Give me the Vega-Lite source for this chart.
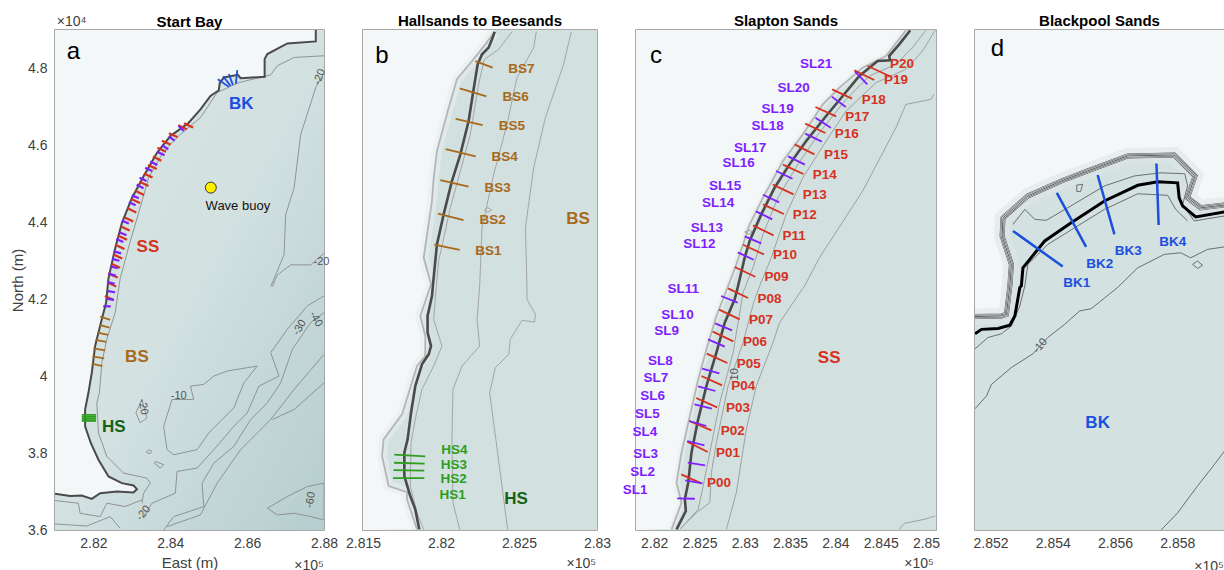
{"$schema":"https://vega.github.io/schema/vega-lite/v6.json","background":"white","padding":{"left":9,"top":13,"right":0,"bottom":0},"config":{"font":"Liberation Sans","view":{"stroke":"#8c8c8c","strokeWidth":1.5},"axis":{"labelFont":"Liberation Sans","labelFontSize":14,"labelColor":"#404040","labelPadding":6,"labelFlush":false,"ticks":false,"domain":false,"grid":false,"titleFont":"Liberation Sans","titleFontSize":15,"titleFontWeight":"normal","titleColor":"#404040","labelOverlap":false},"title":{"font":"Liberation Sans","fontSize":15,"fontWeight":"bold","color":"#000000","offset":1}},
"datasets":{
"transects":[
{"t":"P00","g":"P","e1":282299,"n1":42082,"e2":282522,"n2":41983,"le":282717,"ln":41987},{"t":"P01","g":"P","e1":282365,"n1":42442,"e2":282592,"n2":42328,"le":282816,"ln":42320},{"t":"P02","g":"P","e1":282387,"n1":42669,"e2":282632,"n2":42566,"le":282867,"ln":42563},{"t":"P03","g":"P","e1":282464,"n1":42922,"e2":282695,"n2":42819,"le":282926,"ln":42812},{"t":"P04","g":"P","e1":282522,"n1":43164,"e2":282750,"n2":43061,"le":282984,"ln":43054},{"t":"P05","g":"P","e1":282581,"n1":43410,"e2":282808,"n2":43307,"le":283043,"ln":43300},{"t":"P06","g":"P","e1":282647,"n1":43652,"e2":282874,"n2":43545,"le":283113,"ln":43538},{"t":"P07","g":"P","e1":282717,"n1":43894,"e2":282944,"n2":43787,"le":283179,"ln":43780},{"t":"P08","g":"P","e1":282816,"n1":44128,"e2":283036,"n2":44022,"le":283274,"ln":44015},{"t":"P09","g":"P","e1":282889,"n1":44363,"e2":283116,"n2":44256,"le":283351,"ln":44253},{"t":"P10","g":"P","e1":282981,"n1":44608,"e2":283212,"n2":44502,"le":283443,"ln":44495},{"t":"P11","g":"P","e1":283091,"n1":44821,"e2":283318,"n2":44711,"le":283546,"ln":44707},{"t":"P12","g":"P","e1":283201,"n1":45052,"e2":283432,"n2":44946,"le":283663,"ln":44938},{"t":"P13","g":"P","e1":283311,"n1":45269,"e2":283538,"n2":45162,"le":283773,"ln":45158},{"t":"P14","g":"P","e1":283421,"n1":45489,"e2":283648,"n2":45386,"le":283883,"ln":45379},{"t":"P15","g":"P","e1":283549,"n1":45712,"e2":283769,"n2":45602,"le":284008,"ln":45599},{"t":"P16","g":"P","e1":283667,"n1":45940,"e2":283890,"n2":45837,"le":284125,"ln":45826},{"t":"P17","g":"P","e1":283780,"n1":46123,"e2":284008,"n2":46020,"le":284242,"ln":46013},{"t":"P18","g":"P","e1":283964,"n1":46317,"e2":284184,"n2":46215,"le":284422,"ln":46204},{"t":"P19","g":"P","e1":284209,"n1":46526,"e2":284429,"n2":46420,"le":284668,"ln":46416},{"t":"P20","g":"P","e1":284356,"n1":46574,"e2":284594,"n2":46464,"le":284734,"ln":46592},
{"t":"SL1","g":"SL","e1":282255,"n1":41818,"e2":282449,"n2":41814,"le":281789,"ln":41913},{"t":"SL2","g":"SL","e1":282343,"n1":42016,"e2":282533,"n2":41983,"le":281873,"ln":42108},{"t":"SL3","g":"SL","e1":282372,"n1":42211,"e2":282563,"n2":42181,"le":281906,"ln":42302},{"t":"SL4","g":"SL","e1":282365,"n1":42449,"e2":282555,"n2":42401,"le":281899,"ln":42548},{"t":"SL5","g":"SL","e1":282387,"n1":42669,"e2":282577,"n2":42614,"le":281925,"ln":42746},{"t":"SL6","g":"SL","e1":282445,"n1":42852,"e2":282636,"n2":42805,"le":281983,"ln":42940},{"t":"SL7","g":"SL","e1":282486,"n1":43050,"e2":282676,"n2":42999,"le":282020,"ln":43138},{"t":"SL8","g":"SL","e1":282530,"n1":43245,"e2":282720,"n2":43193,"le":282068,"ln":43333},{"t":"SL9","g":"SL","e1":282596,"n1":43567,"e2":282779,"n2":43487,"le":282137,"ln":43659},{"t":"SL10","g":"SL","e1":282673,"n1":43743,"e2":282860,"n2":43666,"le":282258,"ln":43835},{"t":"SL11","g":"SL","e1":282739,"n1":44044,"e2":282922,"n2":43971,"le":282321,"ln":44125},{"t":"SL12","g":"SL","e1":282922,"n1":44524,"e2":283098,"n2":44443,"le":282500,"ln":44616},{"t":"SL13","g":"SL","e1":282999,"n1":44700,"e2":283182,"n2":44623,"le":282581,"ln":44795},{"t":"SL14","g":"SL","e1":283124,"n1":44975,"e2":283303,"n2":44887,"le":282706,"ln":45067},{"t":"SL15","g":"SL","e1":283201,"n1":45158,"e2":283380,"n2":45074,"le":282783,"ln":45250},{"t":"SL16","g":"SL","e1":283347,"n1":45419,"e2":283527,"n2":45334,"le":282933,"ln":45511},{"t":"SL17","g":"SL","e1":283479,"n1":45580,"e2":283663,"n2":45489,"le":283058,"ln":45672},{"t":"SL18","g":"SL","e1":283667,"n1":45830,"e2":283850,"n2":45742,"le":283252,"ln":45918},{"t":"SL19","g":"SL","e1":283780,"n1":46006,"e2":283949,"n2":45896,"le":283362,"ln":46097},{"t":"SL20","g":"SL","e1":283960,"n1":46237,"e2":284114,"n2":46123,"le":283538,"ln":46328},{"t":"SL21","g":"SL","e1":284217,"n1":46512,"e2":284352,"n2":46372,"le":283788,"ln":46596},
{"t":"BS1","g":"BS","e1":281957,"n1":40299,"e2":282120,"n2":40265,"le":282303,"ln":40258},{"t":"BS2","g":"BS","e1":281981,"n1":40498,"e2":282145,"n2":40457,"le":282331,"ln":40455},{"t":"BS3","g":"BS","e1":281996,"n1":40713,"e2":282177,"n2":40671,"le":282363,"ln":40664},{"t":"BS4","g":"BS","e1":282030,"n1":40912,"e2":282222,"n2":40865,"le":282408,"ln":40861},{"t":"BS5","g":"BS","e1":282094,"n1":41105,"e2":282267,"n2":41066,"le":282455,"ln":41060},{"t":"BS6","g":"BS","e1":282120,"n1":41301,"e2":282291,"n2":41250,"le":282479,"ln":41246},{"t":"BS7","g":"BS","e1":282220,"n1":41476,"e2":282331,"n2":41434,"le":282515,"ln":41427},
{"t":"HS1","g":"HS","e1":281692,"n1":38803,"e2":281893,"n2":38803,"le":282075,"ln":38696},{"t":"HS2","g":"HS","e1":281696,"n1":38854,"e2":281893,"n2":38850,"le":282081,"ln":38795},{"t":"HS3","g":"HS","e1":281699,"n1":38901,"e2":281895,"n2":38895,"le":282083,"ln":38889},{"t":"HS4","g":"HS","e1":281701,"n1":38953,"e2":281899,"n2":38942,"le":282085,"ln":38985},
{"t":"BK1","g":"BK","e1":285272,"n1":47723,"e2":285432,"n2":47609,"le":285477,"ln":47557},{"t":"BK2","g":"BK","e1":285413,"n1":47845,"e2":285507,"n2":47672,"le":285551,"ln":47616},{"t":"BK3","g":"BK","e1":285544,"n1":47902,"e2":285598,"n2":47712,"le":285642,"ln":47659},{"t":"BK4","g":"BK","e1":285733,"n1":47939,"e2":285740,"n2":47742,"le":285785,"ln":47689}],
"transA":[
{"g":"BS","e1":282175,"n1":41551,"e2":282436,"n2":41464},{"g":"BS","e1":282148,"n1":41333,"e2":282418,"n2":41264},{"g":"BS","e1":282105,"n1":41133,"e2":282383,"n2":41072},{"g":"BS","e1":282053,"n1":40942,"e2":282331,"n2":40889},{"g":"BS","e1":282000,"n1":40724,"e2":282305,"n2":40672},{"g":"BS","e1":281974,"n1":40515,"e2":282279,"n2":40463},{"g":"BS","e1":281957,"n1":40324,"e2":282235,"n2":40263},
{"g":"HS","e1":281696,"n1":38993,"e2":282070,"n2":38993},{"g":"HS","e1":281696,"n1":38941,"e2":282070,"n2":38941},{"g":"HS","e1":281696,"n1":38888,"e2":282070,"n2":38888},{"g":"HS","e1":281696,"n1":38836,"e2":282070,"n2":38836},
{"g":"BK","e1":285237,"n1":47721,"e2":285524,"n2":47521},{"g":"BK","e1":285376,"n1":47799,"e2":285568,"n2":47547},{"g":"BK","e1":285524,"n1":47852,"e2":285628,"n2":47573},{"g":"BK","e1":285742,"n1":47956,"e2":285707,"n2":47608}],
"notes":[
{"p":"a","k":"letter","t":"a","e":281479,"n":48417},{"p":"b","k":"letter","t":"b","e":281622,"n":41508},{"p":"c","k":"letter","t":"c","e":282020,"n":46684},{"p":"d","k":"letter","t":"d","e":285222,"n":48306},
{"p":"a","k":"mult","t":"×10⁴","e":281435,"n":49200},{"p":"a","k":"mult","t":"×10⁵","e":287612,"n":35070},{"p":"b","k":"mult","t":"×10⁵","e":282900,"n":38250},{"p":"c","k":"mult","t":"×10⁵","e":284924,"n":41092},{"p":"d","k":"mult","t":"×10⁵","e":285902,"n":46648},
{"p":"a","k":"region","g":"BK","t":"BK","e":285846,"n":47069},{"p":"a","k":"region","g":"SS","t":"SS","e":283419,"n":43354},{"p":"a","k":"region","g":"BS","t":"BS","e":283132,"n":40489},{"p":"a","k":"region","g":"HSr","t":"HS","e":282531,"n":38688},
{"p":"b","k":"region","g":"BS","t":"BS","e":282878,"n":40461},{"p":"b","k":"region","g":"HSr","t":"HS","e":282481,"n":38666},{"p":"c","k":"region","g":"SS","t":"SS","e":283931,"n":43362},{"p":"d","k":"region","g":"BK","t":"BK","e":285544,"n":47110},
{"p":"a","k":"depth","t":"-20","e":287890,"n":47782,"ang":290},{"p":"a","k":"depth","t":"-20","e":287934,"n":42962,"ang":0},{"p":"a","k":"depth","t":"-10","e":284219,"n":39497,"ang":0},{"p":"a","k":"depth","t":"-20","e":283288,"n":39202,"ang":80},{"p":"a","k":"depth","t":"-20","e":283306,"n":36435,"ang":310},{"p":"a","k":"depth","t":"-30","e":287368,"n":41264,"ang":300},{"p":"a","k":"depth","t":"-40","e":287786,"n":41481,"ang":60},{"p":"a","k":"depth","t":"-60","e":287656,"n":36783,"ang":280},
{"p":"c","k":"depth","t":"10","e":282889,"n":43182,"ang":270},{"p":"d","k":"depth","t":"-10","e":285360,"n":47355,"ang":310}],
"seaA":[{"e":281000,"e2":288000,"n":36000,"n2":49000}],"seaB":[{"e":281500,"e2":283000,"n":38470,"n2":41675}],"seaC":[{"e":281800,"e2":285110,"n":41470,"n2":46970}],"seaD":[{"e":285150,"e2":285950,"n":46766,"n2":48366}],
"buoy":[{"e":285054,"n":44902,"e3":285759,"n3":44432,"t":"Wave buoy"}],
"coastA":[{"e":287786,"n":49000},{"e":287786,"n":48704},{"e":287047,"n":48652},{"e":286525,"n":48374},{"e":286455,"n":48243},{"e":286455,"n":47782},{"e":285829,"n":47747},{"e":285759,"n":47834},{"e":285394,"n":47765},{"e":285289,"n":47634},{"e":285263,"n":47434},{"e":285046,"n":47286},{"e":284785,"n":46938},{"e":284480,"n":46590},{"e":284002,"n":46242},{"e":283654,"n":45807},{"e":283306,"n":45198},{"e":283001,"n":44633},{"e":282740,"n":43980},{"e":282566,"n":43328},{"e":282392,"n":42545},{"e":282331,"n":41916},{"e":282218,"n":41481},{"e":282044,"n":40785},{"e":281957,"n":40089},{"e":281870,"n":39567},{"e":281783,"n":39132},{"e":281783,"n":38697},{"e":281931,"n":38262},{"e":282131,"n":37827},{"e":282392,"n":37392},{"e":282740,"n":37218},{"e":283045,"n":37157},{"e":283132,"n":37061},{"e":283045,"n":36974},{"e":282610,"n":37000},{"e":282175,"n":36957},{"e":281957,"n":36809},{"e":281696,"n":36896},{"e":281392,"n":36887},{"e":281000,"n":36940},{"e":281000,"n":49000,"corner":1}],
"contA":[
{"id":"1","e":288003,"n":48330},{"id":"1","e":287221,"n":48287},{"id":"1","e":286786,"n":48069},{"id":"1","e":286612,"n":47834},{"id":"1","e":285785,"n":47634},{"id":"1","e":285220,"n":47373},{"id":"1","e":284785,"n":46721},{"id":"1","e":284263,"n":46286},{"id":"1","e":283828,"n":45851},{"id":"1","e":283436,"n":45155},{"id":"1","e":283175,"n":44241},{"id":"1","e":282958,"n":43502},{"id":"1","e":282697,"n":42545},{"id":"1","e":282566,"n":41655},{"id":"1","e":282349,"n":40959},{"id":"1","e":282218,"n":40350},{"id":"1","e":282157,"n":39567},{"id":"1","e":282088,"n":39306},{"id":"1","e":282131,"n":38523},{"id":"1","e":282349,"n":37914},{"id":"1","e":282784,"n":37479},{"id":"1","e":283393,"n":37349},{"id":"1","e":283480,"n":37218},{"id":"1","e":283306,"n":36957},{"id":"1","e":283262,"n":36696},
{"id":"2","e":288003,"n":47895},{"id":"2","e":287786,"n":47504},{"id":"2","e":287395,"n":46286},{"id":"2","e":287221,"n":44894},{"id":"2","e":287003,"n":44198},{"id":"2","e":286960,"n":43154},{"id":"2","e":286612,"n":42327},
{"id":"3","e":284045,"n":39393},{"id":"3","e":283828,"n":38697},{"id":"3","e":283915,"n":38088},{"id":"3","e":284089,"n":37958},{"id":"3","e":284698,"n":38088},{"id":"3","e":285002,"n":38523},{"id":"3","e":285655,"n":39176},{"id":"3","e":285916,"n":39828},{"id":"3","e":286264,"n":40263},{"id":"3","e":285481,"n":40133},{"id":"3","e":285133,"n":40002},{"id":"3","e":284872,"n":39785},{"id":"3","e":284524,"n":39741},{"id":"3","e":284611,"n":39393},{"id":"3","e":284045,"n":39393},
{"id":"4","e":283306,"n":36348},{"id":"4","e":283523,"n":36696},{"id":"4","e":284132,"n":36957},{"id":"4","e":284176,"n":37523},{"id":"4","e":284698,"n":37610},{"id":"4","e":285133,"n":38088},{"id":"4","e":285655,"n":38697},{"id":"4","e":286003,"n":39045},{"id":"4","e":286307,"n":39741},{"id":"4","e":286829,"n":40002},{"id":"4","e":286612,"n":40611},{"id":"4","e":287047,"n":41220},{"id":"4","e":287569,"n":41829},{"id":"4","e":288003,"n":42090},
{"id":"5","e":283828,"n":36000},{"id":"5","e":284089,"n":36348},{"id":"5","e":284872,"n":36609},{"id":"5","e":284828,"n":37218},{"id":"5","e":285133,"n":37740},{"id":"5","e":285655,"n":38175},{"id":"5","e":286090,"n":38871},{"id":"5","e":286525,"n":39306},{"id":"5","e":286873,"n":39828},{"id":"5","e":287177,"n":40698},{"id":"5","e":287656,"n":41394},{"id":"5","e":288003,"n":41655},
{"id":"6","e":283915,"n":36087},{"id":"6","e":284785,"n":36392},{"id":"6","e":285220,"n":37218},{"id":"6","e":285829,"n":38088},{"id":"6","e":286612,"n":38871},{"id":"6","e":287221,"n":39654},{"id":"6","e":288003,"n":40568},
{"id":"7","e":288003,"n":39828},{"id":"7","e":287221,"n":39132},{"id":"7","e":286655,"n":38871},
{"id":"8","e":286525,"n":36566},{"id":"8","e":287047,"n":36870},{"id":"8","e":287569,"n":37131},{"id":"8","e":288003,"n":37218},{"id":"8","e":288003,"n":36261},{"id":"8","e":287656,"n":36348},{"id":"8","e":287221,"n":36435},{"id":"8","e":286786,"n":36392},{"id":"8","e":286525,"n":36566},
{"id":"9","e":281000,"n":36766},{"id":"9","e":281609,"n":36696},{"id":"9","e":281653,"n":36435},{"id":"9","e":282175,"n":36348},{"id":"9","e":282349,"n":36696},{"id":"9","e":282827,"n":36609},{"id":"9","e":283262,"n":36783},
{"id":"10","e":281000,"n":36157},{"id":"10","e":281827,"n":36104},{"id":"10","e":282436,"n":36348},{"id":"10","e":282697,"n":36044},
{"id":"11","e":283262,"n":39393},{"id":"11","e":283393,"n":38915},{"id":"11","e":283219,"n":38784},{"id":"11","e":283105,"n":39045},{"id":"11","e":283262,"n":39393},
{"id":"12","e":288003,"n":43197},{"id":"12","e":287656,"n":42893},{"id":"12","e":287134,"n":42893},{"id":"12","e":286786,"n":42632},{"id":"12","e":286655,"n":42327},
{"id":"13","e":283436,"n":38088},{"id":"13","e":283523,"n":38045},{"id":"13","e":283480,"n":37983},{"id":"13","e":283375,"n":38018},{"id":"13","e":283436,"n":38088},
{"id":"14","e":283610,"n":37783},{"id":"14","e":283828,"n":37697},{"id":"14","e":283741,"n":37610},{"id":"14","e":283584,"n":37740},{"id":"14","e":283610,"n":37783}],
"coastB":[{"e":282344,"n":41664},{"e":282327,"n":41615},{"e":282305,"n":41562},{"e":282263,"n":41519},{"e":282235,"n":41455},{"e":282209,"n":41295},{"e":282177,"n":41092},{"e":282124,"n":40878},{"e":282070,"n":40707},{"e":282017,"n":40493},{"e":281974,"n":40301},{"e":281953,"n":40087},{"e":281942,"n":39970},{"e":281914,"n":39842},{"e":281914,"n":39735},{"e":281936,"n":39649},{"e":281921,"n":39596},{"e":281878,"n":39532},{"e":281835,"n":39393},{"e":281808,"n":39222},{"e":281786,"n":39051},{"e":281765,"n":38965},{"e":281765,"n":38816},{"e":281803,"n":38688},{"e":281835,"n":38602},{"e":281861,"n":38474}],
"landB":[{"e":282344,"n":41664},{"e":282284,"n":41583},{"e":282199,"n":41476},{"e":282102,"n":41359},{"e":282049,"n":41177},{"e":281974,"n":40899},{"e":281953,"n":40728},{"e":281942,"n":40579},{"e":281889,"n":40216},{"e":281936,"n":40045},{"e":281867,"n":39842},{"e":281899,"n":39713},{"e":281899,"n":39585},{"e":281846,"n":39521},{"e":281793,"n":39350},{"e":281750,"n":39211},{"e":281632,"n":39051},{"e":281622,"n":38944},{"e":281664,"n":38752},{"e":281782,"n":38713},{"e":281782,"n":38666},{"e":281846,"n":38474},{"e":281500,"n":38470,"corner":1},{"e":281500,"n":41675,"corner":1},{"e":282344,"n":41675,"corner":1}],
"contB":[
{"id":"1","e":282455,"n":41664},{"id":"1","e":282370,"n":41551},{"id":"1","e":282278,"n":41487},{"id":"1","e":282241,"n":41327},{"id":"1","e":282188,"n":41006},{"id":"1","e":282060,"n":40536},{"id":"1","e":281985,"n":40194},{"id":"1","e":281970,"n":40034},{"id":"1","e":281953,"n":39820},{"id":"1","e":282006,"n":39649},{"id":"1","e":281953,"n":39521},{"id":"1","e":281878,"n":39372},{"id":"1","e":281835,"n":39179},{"id":"1","e":281808,"n":39030},{"id":"1","e":281803,"n":38752},{"id":"1","e":281846,"n":38581},{"id":"1","e":281889,"n":38474},
{"id":"2","e":282611,"n":41664},{"id":"2","e":282594,"n":41562},{"id":"2","e":282487,"n":41369},{"id":"2","e":282423,"n":41070},{"id":"2","e":282338,"n":40750},{"id":"2","e":282263,"n":40408},{"id":"2","e":282248,"n":40034},{"id":"2","e":282231,"n":39820},{"id":"2","e":282248,"n":39649},{"id":"2","e":282135,"n":39521},{"id":"2","e":282077,"n":39372},{"id":"2","e":282070,"n":39030},{"id":"2","e":282077,"n":38645},{"id":"2","e":282120,"n":38474},
{"id":"3","e":282835,"n":41664},{"id":"3","e":282786,"n":41455},{"id":"3","e":282669,"n":41113},{"id":"3","e":282594,"n":40792},{"id":"3","e":282541,"n":40408},{"id":"3","e":282551,"n":40034},{"id":"3","e":282551,"n":39949},{"id":"3","e":282605,"n":39852},{"id":"3","e":282600,"n":39803},{"id":"3","e":282519,"n":39814},{"id":"3","e":282444,"n":39692},{"id":"3","e":282434,"n":39596},{"id":"3","e":282348,"n":39510},{"id":"3","e":282312,"n":39350},{"id":"3","e":282380,"n":38837},{"id":"3","e":282427,"n":38474},
{"id":"4","e":282278,"n":40521},{"id":"4","e":282301,"n":40536},{"id":"4","e":282325,"n":40521},{"id":"4","e":282301,"n":40506},{"id":"4","e":282278,"n":40521}],
"coastC":[{"e":284825,"n":46966},{"e":284704,"n":46812},{"e":284594,"n":46684},{"e":284602,"n":46636},{"e":284466,"n":46629},{"e":284264,"n":46464},{"e":284081,"n":46244},{"e":283898,"n":46024},{"e":283678,"n":45749},{"e":283494,"n":45492},{"e":283329,"n":45235},{"e":283182,"n":44942},{"e":283054,"n":44649},{"e":282999,"n":44465},{"e":282926,"n":44154},{"e":282889,"n":44007},{"e":282779,"n":43751},{"e":282687,"n":43421},{"e":282577,"n":43054},{"e":282486,"n":42687},{"e":282412,"n":42320},{"e":282376,"n":41990},{"e":282339,"n":41807},{"e":282350,"n":41679},{"e":282247,"n":41477}],
"landC":[{"e":284778,"n":46966},{"e":284558,"n":46684},{"e":284301,"n":46556},{"e":284044,"n":46336},{"e":283861,"n":46152},{"e":283641,"n":45822},{"e":283421,"n":45529},{"e":283201,"n":45126},{"e":283054,"n":44832},{"e":282907,"n":44392},{"e":282816,"n":44154},{"e":282687,"n":43824},{"e":282577,"n":43457},{"e":282486,"n":43127},{"e":282394,"n":42724},{"e":282302,"n":42320},{"e":282247,"n":41990},{"e":282302,"n":41770},{"e":282192,"n":41477},{"e":281800,"n":41470,"corner":1},{"e":281800,"n":46970,"corner":1},{"e":284778,"n":46970,"corner":1}],
"contC":[
{"id":"1","e":284998,"n":46966},{"id":"1","e":284851,"n":46776},{"id":"1","e":284668,"n":46592},{"id":"1","e":284374,"n":46464},{"id":"1","e":284118,"n":46207},{"id":"1","e":283824,"n":45841},{"id":"1","e":283586,"n":45492},{"id":"1","e":283366,"n":45126},{"id":"1","e":283201,"n":44722},{"id":"1","e":283091,"n":44355},{"id":"1","e":282981,"n":44081},{"id":"1","e":282871,"n":43421},{"id":"1","e":282724,"n":42871},{"id":"1","e":282541,"n":41954},{"id":"1","e":282486,"n":41697},{"id":"1","e":282291,"n":41484},
{"id":"2","e":285100,"n":46966},{"id":"2","e":284961,"n":46739},{"id":"2","e":284778,"n":46537},{"id":"2","e":284448,"n":46391},{"id":"2","e":284118,"n":46079},{"id":"2","e":283898,"n":45749},{"id":"2","e":283641,"n":45345},{"id":"2","e":283457,"n":44942},{"id":"2","e":283292,"n":44465},{"id":"2","e":283164,"n":44154},{"id":"2","e":283098,"n":43971},{"id":"2","e":282981,"n":43531},{"id":"2","e":282816,"n":43054},{"id":"2","e":282687,"n":42431},{"id":"2","e":282632,"n":42100},{"id":"2","e":282614,"n":41770},{"id":"2","e":282467,"n":41660},{"id":"2","e":282291,"n":41484},
{"id":"3","e":285089,"n":46262},{"id":"3","e":285053,"n":46207},{"id":"3","e":284778,"n":46152},{"id":"3","e":284668,"n":45896},{"id":"3","e":284301,"n":45199},{"id":"3","e":283824,"n":44465},{"id":"3","e":283659,"n":44154},{"id":"3","e":283384,"n":43751},{"id":"3","e":283311,"n":43531},{"id":"3","e":283127,"n":43054},{"id":"3","e":283017,"n":42577},{"id":"3","e":282907,"n":41880},{"id":"3","e":282797,"n":41477},
{"id":"4","e":284704,"n":41477},{"id":"4","e":284759,"n":41543},{"id":"4","e":284979,"n":41587},{"id":"4","e":285100,"n":41624},
{"id":"5","e":282999,"n":44748},{"id":"5","e":283043,"n":44770},{"id":"5","e":283083,"n":44748},{"id":"5","e":283043,"n":44722},{"id":"5","e":282999,"n":44748}],
"coastD":[{"e":285952,"n":47784},{"e":285859,"n":47768},{"e":285817,"n":47803},{"e":285806,"n":47829},{"e":285801,"n":47877},{"e":285737,"n":47880},{"e":285673,"n":47869},{"e":285566,"n":47819},{"e":285459,"n":47749},{"e":285374,"n":47691},{"e":285304,"n":47605},{"e":285299,"n":47547},{"e":285294,"n":47542},{"e":285278,"n":47451},{"e":285262,"n":47421},{"e":285224,"n":47411},{"e":285171,"n":47408},{"e":285150,"n":47394}],
"landD":[{"e":285952,"n":47806},{"e":285875,"n":47797},{"e":285833,"n":47829},{"e":285857,"n":47899},{"e":285790,"n":47966},{"e":285641,"n":47963},{"e":285512,"n":47915},{"e":285427,"n":47883},{"e":285320,"n":47835},{"e":285240,"n":47765},{"e":285237,"n":47707},{"e":285267,"n":47616},{"e":285262,"n":47547},{"e":285251,"n":47456},{"e":285235,"n":47451},{"e":285150,"n":47449},{"e":285150,"n":48366,"corner":1},{"e":285952,"n":48366,"corner":1}],
"contD":[
{"id":"1","e":285272,"n":47744},{"id":"1","e":285310,"n":47792},{"id":"1","e":285342,"n":47760},{"id":"1","e":285379,"n":47757},{"id":"1","e":285475,"n":47813},{"id":"1","e":285566,"n":47867},{"id":"1","e":285662,"n":47899},{"id":"1","e":285747,"n":47909},{"id":"1","e":285824,"n":47906},{"id":"1","e":285833,"n":47867},{"id":"1","e":285817,"n":47808},{"id":"1","e":285854,"n":47755},{"id":"1","e":285952,"n":47771},
{"id":"2","e":285150,"n":47346},{"id":"2","e":285192,"n":47382},{"id":"2","e":285235,"n":47394},{"id":"2","e":285267,"n":47419},{"id":"2","e":285294,"n":47483},{"id":"2","e":285310,"n":47547},{"id":"2","e":285320,"n":47616},{"id":"2","e":285384,"n":47680},{"id":"2","e":285470,"n":47733},{"id":"2","e":285566,"n":47792},{"id":"2","e":285673,"n":47842},{"id":"2","e":285769,"n":47837},{"id":"2","e":285795,"n":47792},{"id":"2","e":285833,"n":47755},
{"id":"3","e":285150,"n":47154},{"id":"3","e":285187,"n":47195},{"id":"3","e":285203,"n":47232},{"id":"3","e":285267,"n":47286},{"id":"3","e":285336,"n":47330},{"id":"3","e":285384,"n":47382},{"id":"3","e":285438,"n":47424},{"id":"3","e":285486,"n":47467},{"id":"3","e":285523,"n":47474},{"id":"3","e":285608,"n":47542},{"id":"3","e":285673,"n":47605},{"id":"3","e":285758,"n":47648},{"id":"3","e":285811,"n":47653},{"id":"3","e":285843,"n":47637},{"id":"3","e":285897,"n":47664},{"id":"3","e":285952,"n":47672},
{"id":"4","e":285745,"n":46763},{"id":"4","e":285801,"n":46821},{"id":"4","e":285865,"n":46907},{"id":"4","e":285907,"n":46960},{"id":"4","e":285952,"n":47019},
{"id":"5","e":285477,"n":47870},{"id":"5","e":285496,"n":47872},{"id":"5","e":285489,"n":47849},{"id":"5","e":285477,"n":47849},{"id":"5","e":285477,"n":47870},
{"id":"6","e":285849,"n":47616},{"id":"6","e":285865,"n":47627},{"id":"6","e":285881,"n":47613},{"id":"6","e":285865,"n":47603},{"id":"6","e":285849,"n":47616}]
},
"hconcat":[
{"width":269,"height":500,"title":{"text":"Start Bay","offset":-15},
"encoding":{"x":{"field":"e","type":"quantitative","scale":{"domain":[281000,288000],"nice":false,"zero":false},"axis":{"values":[282000,284000,286000,288000],"labelExpr":"format(datum.value/100000,'.3~f')","title":"East (m)","titlePadding":5}},"y":{"field":"n","type":"quantitative","scale":{"domain":[36000,49000],"nice":false,"zero":false},"axis":{"values":[36000,38000,40000,42000,44000,46000,48000],"labelExpr":"format(datum.value/10000,'.1~f')","title":"North (m)","titlePadding":2,"labelPadding":8}}},
"layer":[
{"data":{"name":"seaA"},"mark":{"type":"rect","fill":{"gradient":"linear","x1":0,"y1":0,"x2":1,"y2":1,"stops":[{"offset":0,"color":"#d6e3e3"},{"offset":0.5,"color":"#d3e1e1"},{"offset":0.8,"color":"#c1d5d6"},{"offset":1,"color":"#b5cdce"}]}},"encoding":{"x2":{"field":"e2"},"y2":{"field":"n2"}}},
{"data":{"name":"coastA"},"mark":{"type":"line","order":null,"fill":"#f3f7f8","stroke":"#f3f7f8","strokeWidth":1,"clip":true}},
{"data":{"name":"contA"},"mark":{"type":"line","order":null,"stroke":"#8a8a8a","strokeWidth":0.9,"clip":true},"encoding":{"detail":{"field":"id"}}},
{"data":{"name":"coastA"},"transform":[{"filter":"!datum.corner"}],"mark":{"type":"line","order":null,"stroke":"#4a4a4a","strokeWidth":2,"clip":true}},
{"data":{"name":"transects"},"transform":[{"filter":"datum.g=='P'||datum.g=='SL'"}],"mark":{"type":"rule","strokeWidth":2.2,"clip":true},"encoding":{"x":{"field":"e1","type":"quantitative"},"x2":{"field":"e2"},"y":{"field":"n1","type":"quantitative"},"y2":{"field":"n2"},"color":{"field":"g","type":"nominal","legend":null,"scale":{"domain":["P","SL","BS","HS","BK","HSr","SS"],"range":["#d6321e","#7f1fff","#a8691a","#2e9e1e","#1c4fe0","#156315","#d6321e"]}}}},
{"data":{"name":"transA"},"mark":{"type":"rule","strokeWidth":1.8,"clip":true},"encoding":{"x":{"field":"e1","type":"quantitative"},"x2":{"field":"e2"},"y":{"field":"n1","type":"quantitative"},"y2":{"field":"n2"},"color":{"field":"g","type":"nominal","legend":null}}},
{"data":{"name":"notes"},"transform":[{"filter":"datum.p=='a'&&datum.k=='region'"}],"mark":{"type":"text","fontWeight":"bold","fontSize":17},"encoding":{"text":{"field":"t"},"color":{"field":"g","type":"nominal","legend":null,"scale":{"domain":["P","SL","BS","HS","BK","HSr","SS"],"range":["#d6321e","#7f1fff","#a8691a","#2e9e1e","#1c4fe0","#156315","#d6321e"]}}}},
{"data":{"name":"notes"},"transform":[{"filter":"datum.p=='a'&&datum.k=='depth'"}],"mark":{"type":"text","fontSize":11,"color":"#555555"},"encoding":{"text":{"field":"t"},"angle":{"field":"ang","type":"quantitative","scale":null}}},
{"data":{"name":"notes"},"transform":[{"filter":"datum.p=='a'&&datum.k=='letter'"}],"mark":{"type":"text","fontSize":24,"color":"#000000"},"encoding":{"text":{"field":"t"}}},
{"data":{"name":"notes"},"transform":[{"filter":"datum.p=='a'&&datum.k=='mult'"}],"mark":{"type":"text","fontSize":14,"color":"#404040"},"encoding":{"text":{"field":"t"}}},
{"data":{"name":"buoy"},"mark":{"type":"point","filled":true,"fill":"#ffee00","stroke":"#333333","strokeWidth":1,"size":120,"opacity":1}},
{"data":{"name":"buoy"},"mark":{"type":"text","fontSize":13,"color":"#111111"},"encoding":{"x":{"field":"e3","type":"quantitative"},"y":{"field":"n3","type":"quantitative"},"text":{"field":"t"}}}
]},
{"width":234,"height":500,"title":"Hallsands to Beesands",
"encoding":{"x":{"field":"e","type":"quantitative","scale":{"domain":[281500,283000],"nice":false,"zero":false},"axis":{"values":[281500,282000,282500,283000],"labelExpr":"format(datum.value/100000,'.3~f')","title":null}},"y":{"field":"n","type":"quantitative","scale":{"domain":[38470,41675],"nice":false,"zero":false},"axis":null}},
"layer":[
{"data":{"name":"seaB"},"mark":{"type":"rect","fill":"#d2e0e0"},"encoding":{"x2":{"field":"e2"},"y2":{"field":"n2"}}},
{"data":{"name":"landB"},"mark":{"type":"line","order":null,"fill":"#f3f7f8","strokeWidth":0,"clip":true}},
{"data":{"name":"landB"},"transform":[{"filter":"!datum.corner"}],"mark":{"type":"line","order":null,"stroke":"#e8eeee","strokeWidth":10,"strokeOpacity":0.6,"clip":true}},
{"data":{"name":"landB"},"transform":[{"filter":"!datum.corner"}],"mark":{"type":"line","order":null,"stroke":"#b5b5b5","strokeWidth":1.8,"clip":true}},
{"data":{"name":"contB"},"mark":{"type":"line","order":null,"stroke":"#a5a5a5","strokeWidth":1,"clip":true},"encoding":{"detail":{"field":"id"}}},
{"data":{"name":"coastB"},"mark":{"type":"line","order":null,"stroke":"#4a4a4a","strokeWidth":2.6,"clip":true}},
{"data":{"name":"transects"},"transform":[{"filter":"datum.g=='BS'||datum.g=='HS'"}],"mark":{"type":"rule","strokeWidth":1.8},"encoding":{"x":{"field":"e1","type":"quantitative"},"x2":{"field":"e2"},"y":{"field":"n1","type":"quantitative","axis":null},"y2":{"field":"n2"},"color":{"field":"g","type":"nominal","legend":null,"scale":{"domain":["P","SL","BS","HS","BK","HSr","SS"],"range":["#d6321e","#7f1fff","#a8691a","#2e9e1e","#1c4fe0","#156315","#d6321e"]}}}},
{"data":{"name":"transects"},"transform":[{"filter":"datum.g=='BS'||datum.g=='HS'"}],"mark":{"type":"text","fontWeight":"bold","fontSize":13.5},"encoding":{"x":{"field":"le","type":"quantitative"},"y":{"field":"ln","type":"quantitative","axis":null},"text":{"field":"t"},"color":{"field":"g","type":"nominal","legend":null}}},
{"data":{"name":"notes"},"transform":[{"filter":"datum.p=='b'&&datum.k=='region'"}],"mark":{"type":"text","fontWeight":"bold","fontSize":17},"encoding":{"text":{"field":"t"},"color":{"field":"g","type":"nominal","legend":null}}},
{"data":{"name":"notes"},"transform":[{"filter":"datum.p=='b'&&datum.k=='letter'"}],"mark":{"type":"text","fontSize":24,"color":"#000000"},"encoding":{"text":{"field":"t"}}},
{"data":{"name":"notes"},"transform":[{"filter":"datum.p=='b'&&datum.k=='mult'"}],"mark":{"type":"text","fontSize":14,"color":"#404040"},"encoding":{"text":{"field":"t"}}}
]},
{"width":300,"height":500,"title":"Slapton Sands",
"encoding":{"x":{"field":"e","type":"quantitative","scale":{"domain":[281800,285110],"nice":false,"zero":false},"axis":{"values":[282000,282500,283000,283500,284000,284500,285000],"labelExpr":"format(datum.value/100000,'.3~f')","title":null}},"y":{"field":"n","type":"quantitative","scale":{"domain":[41470,46970],"nice":false,"zero":false},"axis":null}},
"layer":[
{"data":{"name":"seaC"},"mark":{"type":"rect","fill":"#d2e0e0"},"encoding":{"x2":{"field":"e2"},"y2":{"field":"n2"}}},
{"data":{"name":"landC"},"mark":{"type":"line","order":null,"fill":"#f3f7f8","strokeWidth":0,"clip":true}},
{"data":{"name":"landC"},"transform":[{"filter":"!datum.corner"}],"mark":{"type":"line","order":null,"stroke":"#e8eeee","strokeWidth":7,"strokeOpacity":0.6,"clip":true}},
{"data":{"name":"landC"},"transform":[{"filter":"!datum.corner"}],"mark":{"type":"line","order":null,"stroke":"#b5b5b5","strokeWidth":1.8,"clip":true}},
{"data":{"name":"contC"},"mark":{"type":"line","order":null,"stroke":"#a0a0a0","strokeWidth":1,"clip":true},"encoding":{"detail":{"field":"id"}}},
{"data":{"name":"coastC"},"mark":{"type":"line","order":null,"stroke":"#4a4a4a","strokeWidth":2.6,"clip":true}},
{"data":{"name":"transects"},"transform":[{"filter":"datum.g=='P'||datum.g=='SL'"}],"mark":{"type":"rule","strokeWidth":1.8},"encoding":{"x":{"field":"e1","type":"quantitative"},"x2":{"field":"e2"},"y":{"field":"n1","type":"quantitative","axis":null},"y2":{"field":"n2"},"color":{"field":"g","type":"nominal","legend":null,"scale":{"domain":["P","SL","BS","HS","BK","HSr","SS"],"range":["#d6321e","#7f1fff","#a8691a","#2e9e1e","#1c4fe0","#156315","#d6321e"]}}}},
{"data":{"name":"transects"},"transform":[{"filter":"datum.g=='P'||datum.g=='SL'"}],"mark":{"type":"text","fontWeight":"bold","fontSize":13.5},"encoding":{"x":{"field":"le","type":"quantitative"},"y":{"field":"ln","type":"quantitative","axis":null},"text":{"field":"t"},"color":{"field":"g","type":"nominal","legend":null}}},
{"data":{"name":"notes"},"transform":[{"filter":"datum.p=='c'&&datum.k=='region'"}],"mark":{"type":"text","fontWeight":"bold","fontSize":17},"encoding":{"text":{"field":"t"},"color":{"field":"g","type":"nominal","legend":null}}},
{"data":{"name":"notes"},"transform":[{"filter":"datum.p=='c'&&datum.k=='depth'"}],"mark":{"type":"text","fontSize":11,"color":"#555555"},"encoding":{"text":{"field":"t"},"angle":{"field":"ang","type":"quantitative","scale":null}}},
{"data":{"name":"notes"},"transform":[{"filter":"datum.p=='c'&&datum.k=='letter'"}],"mark":{"type":"text","fontSize":24,"color":"#000000"},"encoding":{"text":{"field":"t"}}},
{"data":{"name":"notes"},"transform":[{"filter":"datum.p=='c'&&datum.k=='mult'"}],"mark":{"type":"text","fontSize":14,"color":"#404040"},"encoding":{"text":{"field":"t"}}}
]},
{"width":249,"height":500,"title":"Blackpool Sands",
"encoding":{"x":{"field":"e","type":"quantitative","scale":{"domain":[285150,285950],"nice":false,"zero":false},"axis":{"values":[285200,285400,285600,285800],"labelExpr":"format(datum.value/100000,'.3~f')","title":null}},"y":{"field":"n","type":"quantitative","scale":{"domain":[46766,48366],"nice":false,"zero":false},"axis":null}},
"layer":[
{"data":{"name":"seaD"},"mark":{"type":"rect","fill":"#d4e1e1"},"encoding":{"x2":{"field":"e2"},"y2":{"field":"n2"}}},
{"data":{"name":"landD"},"mark":{"type":"line","order":null,"fill":"#f3f7f8","strokeWidth":0,"clip":true}},
{"data":{"name":"landD"},"transform":[{"filter":"!datum.corner"}],"mark":{"type":"line","order":null,"stroke":"#dfe6e6","strokeWidth":16,"strokeOpacity":0.6,"clip":true}},
{"data":{"name":"landD"},"transform":[{"filter":"!datum.corner"}],"mark":{"type":"line","order":null,"stroke":"#505050","strokeWidth":5,"clip":true}},
{"data":{"name":"landD"},"transform":[{"filter":"!datum.corner"}],"mark":{"type":"line","order":null,"stroke":"#dfe7e7","strokeWidth":4,"clip":true}},
{"data":{"name":"landD"},"transform":[{"filter":"!datum.corner"}],"mark":{"type":"line","order":null,"stroke":"#505050","strokeWidth":3,"clip":true}},
{"data":{"name":"landD"},"transform":[{"filter":"!datum.corner"}],"mark":{"type":"line","order":null,"stroke":"#dfe7e7","strokeWidth":2,"clip":true}},
{"data":{"name":"landD"},"transform":[{"filter":"!datum.corner"}],"mark":{"type":"line","order":null,"stroke":"#505050","strokeWidth":0.9,"clip":true}},
{"data":{"name":"contD"},"mark":{"type":"line","order":null,"stroke":"#505050","strokeWidth":0.8,"clip":true},"encoding":{"detail":{"field":"id"}}},
{"data":{"name":"coastD"},"mark":{"type":"line","order":null,"stroke":"#000000","strokeWidth":3,"clip":true}},
{"data":{"name":"transects"},"transform":[{"filter":"datum.g=='BK'"}],"mark":{"type":"rule","strokeWidth":2.5},"encoding":{"x":{"field":"e1","type":"quantitative"},"x2":{"field":"e2"},"y":{"field":"n1","type":"quantitative","axis":null},"y2":{"field":"n2"},"color":{"field":"g","type":"nominal","legend":null,"scale":{"domain":["P","SL","BS","HS","BK","HSr","SS"],"range":["#d6321e","#7f1fff","#a8691a","#2e9e1e","#1c4fe0","#156315","#d6321e"]}}}},
{"data":{"name":"transects"},"transform":[{"filter":"datum.g=='BK'"}],"mark":{"type":"text","fontWeight":"bold","fontSize":13.5},"encoding":{"x":{"field":"le","type":"quantitative"},"y":{"field":"ln","type":"quantitative","axis":null},"text":{"field":"t"},"color":{"field":"g","type":"nominal","legend":null}}},
{"data":{"name":"notes"},"transform":[{"filter":"datum.p=='d'&&datum.k=='region'"}],"mark":{"type":"text","fontWeight":"bold","fontSize":17},"encoding":{"text":{"field":"t"},"color":{"field":"g","type":"nominal","legend":null}}},
{"data":{"name":"notes"},"transform":[{"filter":"datum.p=='d'&&datum.k=='depth'"}],"mark":{"type":"text","fontSize":11,"color":"#555555"},"encoding":{"text":{"field":"t"},"angle":{"field":"ang","type":"quantitative","scale":null}}},
{"data":{"name":"notes"},"transform":[{"filter":"datum.p=='d'&&datum.k=='letter'"}],"mark":{"type":"text","fontSize":24,"color":"#000000"},"encoding":{"text":{"field":"t"}}},
{"data":{"name":"notes"},"transform":[{"filter":"datum.p=='d'&&datum.k=='mult'"}],"mark":{"type":"text","fontSize":14,"color":"#404040"},"encoding":{"text":{"field":"t"}}}
]}
],"spacing":39,"bounds":"flush"}
